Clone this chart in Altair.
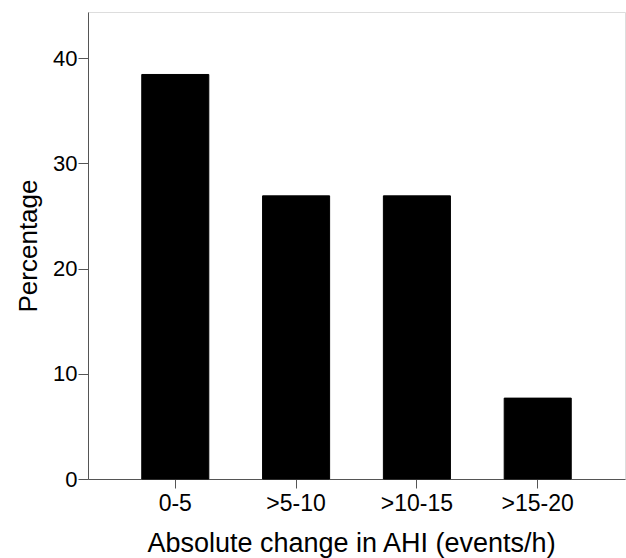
import altair as alt
import pandas as pd

categories = ["0-5", ">5-10", ">10-15", ">15-20"]
percentages = [38.46, 26.92, 26.92, 7.69]
y_ticks = [0, 10, 20, 30, 40]

df = pd.DataFrame({"cat": categories, "pct": percentages})

FONT = "Liberation Sans"
AX = "#555555"

chart = alt.Chart(df).mark_bar(color="black", stroke="black", strokeWidth=1).encode(
    x=alt.X(
        "cat:N",
        sort=categories,
        scale=alt.Scale(paddingInner=0.445, paddingOuter=0.445),
        axis=alt.Axis(
            title="Absolute change in AHI (events/h)",
            labelAngle=0,
            labelFontSize=23,
            titleFontSize=27,
            titleFontWeight="normal",
            labelFont=FONT,
            titleFont=FONT,
            labelColor="black",
            titleColor="black",
            tickSize=9,
            tickColor=AX,
            domainColor=AX,
            labelPadding=4,
            titleX=263,
            titleY=72,
            titleBaseline="alphabetic",
        ),
    ),
    y=alt.Y(
        "pct:Q",
        scale=alt.Scale(domain=[0, 44.4], nice=False),
        axis=alt.Axis(
            title="Percentage",
            values=y_ticks,
            grid=False,
            labelFontSize=22,
            titleFontSize=26,
            titleFontWeight="normal",
            labelFont=FONT,
            titleFont=FONT,
            labelColor="black",
            titleColor="black",
            tickSize=10,
            tickColor=AX,
            domainColor=AX,
            labelPadding=1,
            titleX=-52,
            titleBaseline="alphabetic",
        ),
    ),
).properties(
    width=537,
    height=467,
    autosize=alt.AutoSizeParams(type="none"),
    padding={"left": 88, "top": 12, "right": 1, "bottom": 79},
).configure_view(
    stroke=AX, strokeWidth=1.5
).configure(background="white")

chart.save("out.html", embed_options={"renderer": "svg", "actions": False})
